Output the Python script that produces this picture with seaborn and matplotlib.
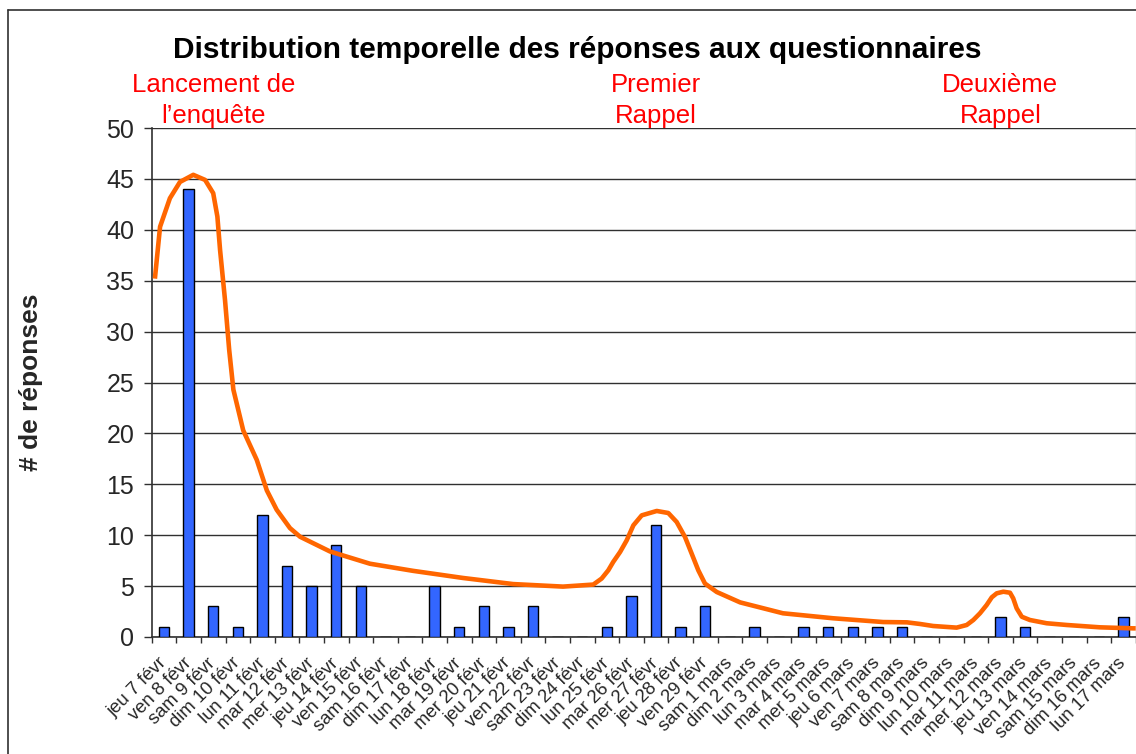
import numpy as np
import pandas as pd
import matplotlib
matplotlib.use("Agg")
import matplotlib.pyplot as plt
from matplotlib.lines import Line2D
import matplotlib.transforms as mtransforms
import seaborn as sns

days = ["jeu 7 févr", "ven 8 févr", "sam 9 févr", "dim 10 févr", "lun 11 févr",
        "mar 12 févr", "mer 13 févr", "jeu 14 févr", "ven 15 févr", "sam 16 févr",
        "dim 17 févr", "lun 18 févr", "mar 19 févr", "mer 20 févr", "jeu 21 févr",
        "ven 22 févr", "sam 23 févr", "dim 24 févr", "lun 25 févr", "mar 26 févr",
        "mer 27 févr", "jeu 28 févr", "ven 29 févr", "sam 1 mars", "dim 2 mars",
        "lun 3 mars", "mar 4 mars", "mer 5 mars", "jeu 6 mars", "ven 7 mars",
        "sam 8 mars", "dim 9 mars", "lun 10 mars", "mar 11 mars", "mer 12 mars",
        "jeu 13 mars", "ven 14 mars", "sam 15 mars", "dim 16 mars", "lun 17 mars"]
responses = [1, 44, 3, 1, 12, 7, 5, 9, 5, 0,
             0, 5, 1, 3, 1, 3, 0, 0, 1, 4,
             11, 1, 3, 0, 1, 0, 1, 1, 1, 1,
             1, 0, 0, 0, 2, 1, 0, 0, 0, 2]

# hand-drawn trend curve (position in category units, value)
trend_x = [-0.37, -0.16, 0.24, 0.65, 1.19, 1.67, 2.00, 2.17, 2.28, 2.48, 2.65,
           2.82, 3.22, 3.77, 4.18, 4.58, 5.12, 5.53, 6.75, 8.37, 10.12, 12.15,
           14.19, 16.22, 17.45, 17.79, 18.06, 18.26, 18.54, 18.81, 19.08, 19.42,
           20.03, 20.50, 20.84, 21.18, 21.45, 21.72, 21.99, 22.47, 23.42, 25.16,
           27.20, 29.23, 30.20, 30.73, 31.27, 32.22, 32.63, 32.90, 33.17, 33.44,
           33.65, 33.85, 34.12, 34.39, 34.52, 34.66, 34.87, 35.20, 35.88, 36.70,
           38.05, 39.39, 39.50]
trend_y = [35.2, 40.3, 43.1, 44.7, 45.4, 44.9, 43.6, 41.3, 38.0, 33.1, 28.2,
           24.3, 20.3, 17.4, 14.4, 12.5, 10.7, 9.85, 8.4, 7.2, 6.5, 5.8,
           5.2, 4.95, 5.15, 5.74, 6.55, 7.37, 8.35, 9.50, 10.97, 11.95,
           12.38, 12.18, 11.30, 9.82, 8.19, 6.55, 5.25, 4.42, 3.40, 2.33,
           1.84, 1.47, 1.44, 1.28, 1.08, 0.92, 1.18, 1.67, 2.33, 3.14,
           3.90, 4.29, 4.45, 4.35, 3.80, 2.82, 1.99, 1.67, 1.35, 1.18,
           0.95, 0.85, 0.85]

title = "Distribution temporelle des réponses aux questionnaires"
ylabel = "# de réponses"
events = ["Lancement de\nl’enquête", "Premier\nRappel", "Deuxième\nRappel"]
event_pos = [2, 20, 34]

sns.set_theme(style="white")
plt.rcParams["font.family"] = ["Liberation Sans", "DejaVu Sans"]

fig = plt.figure(figsize=(11.36, 7.54), dpi=100)
ax = fig.add_axes([151.7 / 1136, 117 / 754, 984 / 1136, 509 / 754])

df = pd.DataFrame({"jour": days, "n": responses})
sns.barplot(data=df, x="jour", y="n", order=days, color="#3366FF", saturation=1,
            width=0.43, edgecolor="black", linewidth=1.0, ax=ax, zorder=3)
sns.lineplot(x=trend_x, y=trend_y, sort=False, estimator=None, color="#FF6600",
             linewidth=3.3, ax=ax, zorder=4, solid_joinstyle="round",
             solid_capstyle="butt")

ax.set_xlim(-0.5, len(days) - 0.5)
ax.set_ylim(0, 50)
ax.set_yticks(np.arange(0, 51, 5))
ax.yaxis.grid(True, color="#303030", linewidth=1.0, zorder=0)
ax.xaxis.grid(False)
ax.set_axisbelow(True)

ax.set_xticks(np.arange(len(days)))
ax.set_xticklabels(days, rotation=45, ha="right", va="center",
                   rotation_mode="anchor", fontsize=13.3)
ax.set_xticks(np.arange(len(days) + 1) - 0.5, minor=True)
ax.tick_params(axis="x", which="major", length=0, pad=17)
ax.tick_params(axis="x", which="minor", length=4, width=1, color="#303030",
               direction="out", bottom=True)
ax.tick_params(axis="y", which="major", length=5.5, width=1, color="#303030",
               direction="out", left=True, labelsize=18, pad=7)

ax.set_xlabel("")
ax.set_ylabel(ylabel, fontsize=19, fontweight="bold")
ax.yaxis.set_label_coords((43 - 151.7) / 984, 0.5)

for s in ["left", "bottom"]:
    ax.spines[s].set_visible(True)
    ax.spines[s].set_color("#303030")
    ax.spines[s].set_linewidth(1.2)
ax.spines["top"].set_visible(False)
ax.spines["right"].set_visible(True)
ax.spines["right"].set_color("#b0b0b0")
ax.spines["right"].set_linewidth(1.0)

fig.text(577.5 / 1136, 1 - 50 / 754, title, ha="center", va="center",
         fontsize=21.5, fontweight="bold", color="black")

trans = mtransforms.blended_transform_factory(ax.transData, ax.transAxes)
for label, pos in zip(events, event_pos):
    ax.text(pos, (637 - 100.5) / 509, label, transform=trans, ha="center",
            va="center", fontsize=18.5, color="#FF0000", linespacing=1.32,
            clip_on=False)

# outer chart border (top and left visible)
fig.add_artist(Line2D([8 / 1136, 8 / 1136], [0, 1 - 10 / 754], transform=fig.transFigure,
                      color="#303030", linewidth=1.2))
fig.add_artist(Line2D([8 / 1136, 1], [1 - 10 / 754, 1 - 10 / 754],
                      transform=fig.transFigure, color="#303030", linewidth=1.2))

fig.savefig("out.png", dpi=100, facecolor="white")
